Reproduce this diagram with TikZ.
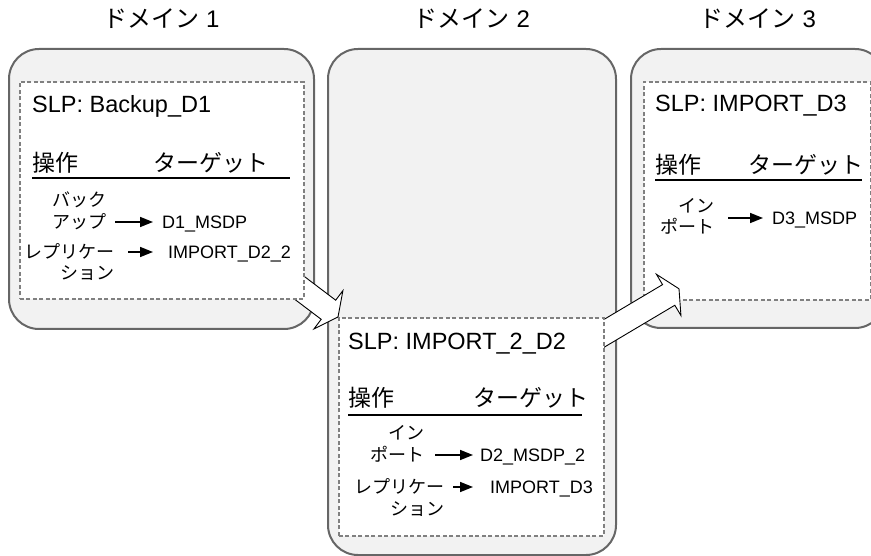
\documentclass[tikz,border=0pt]{standalone}
\usepackage{fontspec}
\setmainfont{Liberation Sans}
\newfontfamily\jpfont{Noto Sans CJK JP}
\usepackage{tikz}
\usetikzlibrary{calc, positioning, arrows.meta}
\usepackage{xcolor}
\definecolor{domfill}{RGB}{242, 242, 242}
\definecolor{domline}{RGB}{102, 102, 102}
\definecolor{slpline}{RGB}{128, 128, 128}
\pgfdeclarelayer{back}
\pgfdeclarelayer{mid}
\pgfsetlayers{back,mid,main}

\tikzset{
  dombox/.style={draw=domline, fill=domfill, line width=2pt, rounded corners=30pt, anchor=north west, inner sep=0pt},
  domtitle/.style={font=\fontsize{24pt}{28pt}\selectfont, inner sep=0pt},
  slpbox/.style={draw=slpline, fill=white, line width=1.8pt, dash pattern=on 4pt off 2.5pt, anchor=north west, inner sep=0pt},
  slpname/.style={font=\fontsize{23.5pt}{27pt}\selectfont, inner sep=0pt, anchor=base west},
  colhead/.style={font=\jpfont\fontsize{23pt}{27pt}\selectfont, inner sep=0pt, anchor=west},
  headrule/.style={line width=2pt},
  oplabel/.style={font=\jpfont\fontsize{18pt}{21.5pt}\selectfont, align=right, inner sep=0pt, anchor=east},
  tgtext/.style={font=\fontsize{18pt}{21.5pt}\selectfont, inner sep=0pt, text height=12.9pt, text depth=0pt, anchor=west},
  oparrow/.style={line width=1.6pt, -{Triangle[length=13pt, width=10pt]}},
  flowarrow/.style={draw=black, fill=white, line width=0.9pt},
}

% wide hollow arrow from #1 to #2
\newcommand{\flowarrow}[2]{%
  \path ($(#2)!12pt!(#1)$) coordinate (flow base);
  \draw[flowarrow] ($(#1)!12pt!90:(#2)$) -- ($(flow base)!12pt!-90:(#1)$)
    -- ($(flow base)!24pt!-90:(#1)$) -- (#2) -- ($(flow base)!24pt!90:(#1)$)
    -- ($(flow base)!12pt!90:(#1)$) -- ($(#1)!12pt!-90:(#2)$) -- cycle;}

\begin{document}
\begin{tikzpicture}[x=1pt, y=-1pt]
  \useasboundingbox (0,0) rectangle (871,556);

  % Domains (y runs downward)
  \begin{pgfonlayer}{back}
    \node[dombox, minimum width=305pt, minimum height=280pt] (dom1) at (8,48) {};
    \node[dombox, minimum width=288pt, minimum height=506pt] (dom2) at (327,48) {};
    \node[dombox, minimum width=254pt, minimum height=279pt] (dom3) at (630,48) {};
    \node[slpbox, minimum width=227pt, minimum height=218pt] (slp3) at (643,81) {};
  \end{pgfonlayer}
  \node[domtitle] (title1) at ($(dom1.north)+(0,-29.5)$) {{\jpfont ドメイン} 1};
  \node[domtitle] (title2) at ($(dom2.north)+(0,-29.5)$) {{\jpfont ドメイン} 2};
  \node[domtitle] (title3) at ($(dom3.north)+(0,-29.5)$) {{\jpfont ドメイン} 3};

  % SLP boxes
  \node[slpbox, minimum width=284pt, minimum height=217pt] (slp1) at (19,81) {};
  \node[slpbox, minimum width=265pt, minimum height=218pt] (slp2) at (338,317) {};

  % Domain 1
  \node[slpname] (name1) at (32,113) {SLP: Backup\_D1};
  \node[colhead] (ophead1) at (32,163) {操作};
  \node[colhead] (tghead1) at (153,163) {ターゲット};
  \draw[headrule] (32,178) -- (290,178);
  \node[oplabel] (op11) at (107,211) {バック\\アップ};
  \node[tgtext] (tg11) at (162,222) {D1\_MSDP};
  \node[oplabel] (op12) at (115,262) {レプリケー\\ション};
  \node[tgtext] (tg12) at (168,252) {IMPORT\_D2\_2};
  \draw[oparrow, shorten <=8pt, shorten >=9pt] (op11.east |- tg11.west) -- (tg11.west);
  \draw[oparrow, shorten <=13pt, shorten >=15pt] (op12.east |- tg12.west) -- (tg12.west);

  % Domain 2
  \node[slpname] (name2) at (348,350) {SLP: IMPORT\_2\_D2};
  \node[colhead] (ophead2) at (348,398) {操作};
  \node[colhead] (tghead2) at (473,398) {ターゲット};
  \draw[headrule] (348,415) -- (582,415);
  \node[oplabel] (op21) at (425,444) {イン\\ポート};
  \node[tgtext] (tg21) at (480,455) {D2\_MSDP\_2};
  \node[oplabel] (op22) at (445,497.5) {レプリケー\\ション};
  \node[tgtext] (tg22) at (490,487) {IMPORT\_D3};
  \draw[oparrow, shorten <=10pt, shorten >=7pt] (op21.east |- tg21.west) -- (tg21.west);
  \draw[oparrow, shorten <=8pt, shorten >=17pt] (op22.east |- tg22.west) -- (tg22.west);

  % Domain 3
  \node[slpname] (name3) at (655,112) {SLP: IMPORT\_D3};
  \node[colhead] (ophead3) at (655,165) {操作};
  \node[colhead] (tghead3) at (748,165) {ターゲット};
  \draw[headrule] (655,180) -- (862,180);
  \node[oplabel] (op31) at (715,216.5) {イン\\ポート};
  \node[tgtext] (tg31) at (772,218) {D3\_MSDP};
  \draw[oparrow, shorten <=13pt, shorten >=9pt] (op31.east |- tg31.west) -- (tg31.west);

  % Flow between domains
  \coordinate (flow1 tail) at ($(slp1.south east)+(-12,-17)$);
  \coordinate (flow2 tail) at ($(slp2.north east)+(-17,26)$);
  \coordinate (flow2 tip) at ($(slp3.south west)+(36,-12)$);
  \begin{pgfonlayer}{mid}
    \flowarrow{flow1 tail}{slp2.north west}
    \flowarrow{flow2 tail}{flow2 tip}
  \end{pgfonlayer}
\end{tikzpicture}
\end{document}
